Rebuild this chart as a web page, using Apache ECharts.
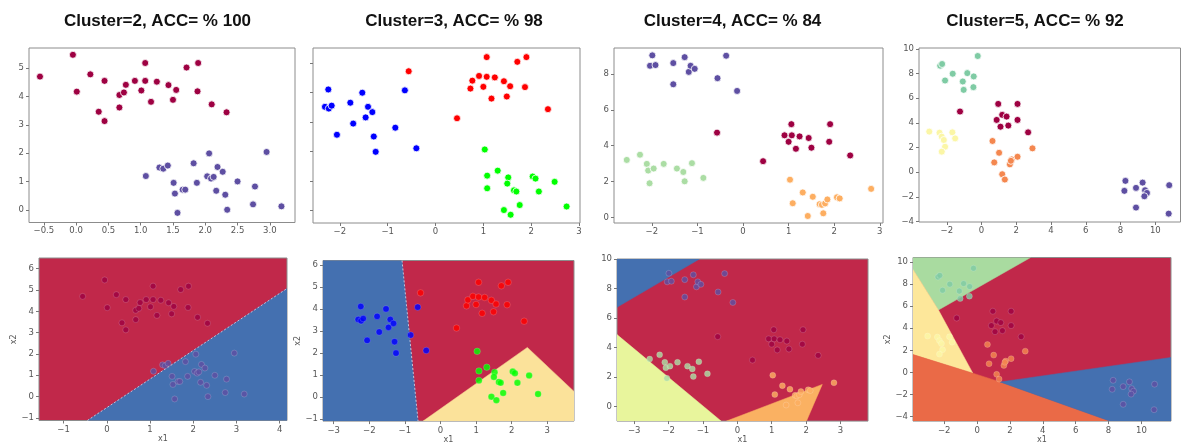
<!DOCTYPE html>
<html>
<head>
<meta charset="utf-8">
<script src="https://cdn.jsdelivr.net/npm/echarts@6/dist/echarts.min.js"></script>
<style>
  html, body { margin: 0; padding: 0; background: #fff; }
  #chart { width: 1181px; height: 445px; }
</style>
</head>
<body>
<div id="chart"></div>
<script>
// ---------- panel titles ----------
const titles = ['Cluster=2, ACC= % 100', 'Cluster=3, ACC= % 98', 'Cluster=4, ACC= % 84', 'Cluster=5, ACC= % 92'];

// ---------- k = 2 ----------
const k2Red = [[-0.56,4.70],[-0.05,5.47],[0.01,4.17],[0.22,4.78],[0.44,4.55],[0.35,3.46],[0.44,3.13],[0.67,3.61],[0.67,4.05],[0.74,4.14],[0.77,4.41],[0.91,4.55],[1.01,4.21],[1.07,5.18],[1.07,4.55],[1.16,3.81],[1.25,4.52],[1.43,4.40],[1.50,3.88],[1.55,4.23],[1.71,5.02],[1.89,5.18],[1.88,4.18],[2.10,3.72],[2.33,3.44]];
const k2Blue = [[1.08,1.19],[1.29,1.49],[1.35,1.45],[1.42,1.56],[1.51,0.95],[1.53,0.57],[1.57,-0.11],[1.65,0.71],[1.69,0.71],[1.82,1.64],[1.87,0.95],[2.06,1.99],[2.03,1.18],[2.09,1.10],[2.13,1.16],[2.17,0.67],[2.19,1.51],[2.27,1.34],[2.31,0.53],[2.34,0.00],[2.50,1.00],[2.77,0.82],[2.74,0.19],[2.95,2.04],[3.18,0.12]];

// ---------- k = 3 ----------
const k3Blue = [[-2.24,4.11],[-2.31,3.52],[-2.23,3.46],[-2.17,3.56],[-2.06,2.57],[-1.78,3.66],[-1.72,2.95],[-1.53,4.00],[-1.41,3.52],[-1.46,3.16],[-1.32,3.34],[-1.29,2.51],[-1.25,1.99],[-0.84,2.81],[-0.64,4.08],[-0.40,2.11]];
const k3Red = [[-0.56,4.73],[0.45,3.13],[0.73,4.14],[0.77,4.41],[0.91,4.57],[1.00,4.20],[1.07,5.21],[1.07,4.54],[1.17,3.80],[1.24,4.52],[1.43,4.39],[1.49,3.87],[1.56,4.22],[1.71,5.05],[1.90,5.21],[1.87,4.19],[2.35,3.44]];
const k3Green = [[1.03,2.07],[1.08,1.18],[1.08,0.75],[1.30,1.35],[1.52,1.12],[1.50,0.91],[1.64,0.68],[1.69,0.64],[1.43,0.01],[1.57,-0.15],[1.76,0.18],[2.03,1.15],[2.09,1.08],[2.16,0.64],[2.49,0.97],[2.74,0.13]];

// ---------- k = 4 ----------
const k4Purple = [[-1.99,9.03],[-2.04,8.45],[-1.92,8.49],[-1.53,8.60],[-1.53,7.42],[-1.28,8.93],[-1.19,8.11],[-1.15,8.45],[-1.06,8.28],[-0.56,7.76],[-0.37,9.01],[-0.13,7.05]];
const k4Red = [[-0.57,4.73],[0.44,3.14],[0.91,4.58],[1.00,4.22],[1.06,5.20],[1.07,4.58],[1.16,3.83],[1.24,4.52],[1.44,4.43],[1.50,3.89],[1.91,5.20],[1.89,4.22],[2.35,3.46]];
const k4LightGreen = [[-2.55,3.21],[-2.26,3.50],[-2.11,2.99],[-2.08,2.62],[-1.96,2.73],[-2.05,1.91],[-1.74,2.99],[-1.45,2.73],[-1.31,2.54],[-1.28,2.02],[-1.12,3.03],[-0.87,2.21]];
const k4Orange = [[1.03,2.11],[1.09,0.80],[1.31,1.40],[1.42,0.09],[1.53,1.16],[1.68,0.75],[1.73,0.71],[1.80,0.79],[1.85,1.01],[1.76,0.24],[2.06,1.13],[2.12,1.07],[2.81,1.60]];

// ---------- k = 5 ----------
const k5Green = [[-2.38,8.64],[-2.27,8.78],[-2.10,7.44],[-1.66,7.99],[-1.08,7.36],[-1.03,6.68],[-0.82,8.04],[-0.45,7.77],[-0.47,6.90],[-0.22,9.43]];
const k5Red = [[-1.24,4.92],[0.96,5.54],[2.07,5.54],[0.87,4.24],[1.19,4.65],[1.44,4.51],[1.09,3.69],[1.54,3.78],[2.07,4.24],[2.68,3.23]];
const k5Yellow = [[-3.01,3.29],[-2.42,3.20],[-2.29,2.88],[-2.17,2.61],[-1.68,3.23],[-1.52,2.74],[-2.10,2.06],[-2.29,1.66]];
const k5Orange = [[0.63,2.53],[1.01,1.57],[0.73,0.79],[1.19,-0.17],[1.34,-0.60],[1.63,0.63],[1.74,1.03],[1.69,0.92],[2.07,1.25],[2.93,1.93]];
const k5Purple = [[8.28,-0.71],[8.22,-1.52],[8.89,-1.28],[9.27,-0.85],[9.41,-1.47],[9.52,-1.69],[9.37,-1.96],[8.89,-2.88],[10.80,-1.06],[10.77,-3.37]];

// ---------- axis ranges and ticks (top row: scatter, bottom row: decision regions) ----------
const topXRange = [[-0.73,3.39],[-2.56,3.02],[-2.83,3.07],[-3.6,11.45]];
const topYRange = [[-0.45,5.71],[-0.43,5.52],[-0.30,9.44],[-4.05,10.08]];
const topXTicks = [[-0.5,0,0.5,1,1.5,2,2.5,3],[-2,-1,0,1,2,3],[-2,-1,0,1,2,3],[-2,0,2,4,6,8,10]];
const topYTicks = [[0,1,2,3,4,5],[0,1,2,3,4,5],[0,2,4,6,8],[-4,-2,0,2,4,6,8,10]];

const botXRange = [[-1.57,4.17],[-3.3,3.75],[-3.5,3.8],[-3.9,11.8]];
const botYRange = [[-1.12,6.5],[-1.1,6.2],[-1.0,10.0],[-4.4,10.4]];
const botXTicks = [[-1,0,1,2,3,4],[-3,-2,-1,0,1,2,3],[-3,-2,-1,0,1,2,3],[-2,0,2,4,6,8,10]];
const botYTicks = [[-1,0,1,2,3,4,5,6],[-1,0,1,2,3,4,5,6],[0,2,4,6,8,10],[-4,-2,0,2,4,6,8,10]];

// ---------- decision region polygons (remaining area is the red class) ----------
const k2RegionBlue = [[-0.45,-1.12],[4.17,5.07],[4.17,-1.12]];
const k3RegionBlue = [[-3.3,6.2],[-1.08,6.2],[-0.63,-1.1],[-3.3,-1.1]];
const k3RegionYellow = [[-0.49,-1.1],[2.44,2.25],[3.75,0.25],[3.75,-1.1]];
const k3Boundary = [[-1.08,6.2],[-0.63,-1.1]];
const k4RegionBlue = [[-3.5,6.72],[-1.1,10.0],[-3.5,10.0]];
const k4RegionLime = [[-3.5,4.87],[-0.47,-1.0],[-3.5,-1.0]];
const k4RegionOrange = [[-0.32,-1.0],[2.47,1.49],[2.01,-1.0]];
const k5RegionGreen = [[-3.9,10.4],[3.26,10.4],[-2.35,5.65],[-3.9,9.32]];
const k5RegionYellow = [[-3.9,9.32],[-2.35,5.65],[-0.26,-0.06],[-3.9,1.62]];
const k5RegionOrange = [[-3.9,1.62],[-0.26,-0.06],[1.40,-0.86],[8.08,-4.4],[-3.9,-4.4]];
const k5RegionBlue = [[1.40,-0.86],[11.8,1.36],[11.8,-4.4],[8.08,-4.4]];

// ---------- styling ----------
const C = {
  maroon: '#9e0142', indigo: '#5e4fa2',
  blue: '#0000ff', red: '#ff0000', lime: '#00ff00',
  mint: '#abdda4', apricot: '#fdae61',
  teal: '#7fcba4', pale: '#fbf6a6', coral: '#f4874f',
  regRed: '#c1284a', regBlue: '#4470b0', regYellow: '#fbe29a',
  regLime: '#e8f59c', regOrange: '#fab162', regGreen: '#a9dba0',
  regYellow5: '#fde79a', regCoral: '#ea6a47'
};

const gridsTop = [
  { left: 29, top: 48, width: 266, height: 174.5 },
  { left: 313, top: 48, width: 267, height: 175 },
  { left: 614, top: 48, width: 269, height: 175 },
  { left: 919, top: 48, width: 261.5, height: 174 }
];
const gridsBot = [
  { left: 39, top: 258, width: 248, height: 162.5 },
  { left: 323, top: 260.5, width: 251, height: 163.5 },
  { left: 617, top: 259, width: 251, height: 163 },
  { left: 913, top: 257.5, width: 258, height: 166.5 }
];
const titleX = [157.5, 454, 732.5, 1035];
const yNameGap = [20, 12, 0, 17];

const fmtMinus = (v, dec) => {
  const s = dec ? v.toFixed(dec) : String(Math.round(v));
  return s.replace('-', '\u2212');
};

const grid = [], xAxis = [], yAxis = [], series = [];
const tickFont = { fontFamily: 'DejaVu Sans', fontSize: 8.5, color: '#555' };

function addAxes(idx, g, xr, yr, xt, yt, opts) {
  grid.push(Object.assign({
    show: true, borderColor: '#8c8c8c', borderWidth: 1,
    backgroundColor: opts.bg || 'transparent', containLabel: false
  }, g));
  xAxis.push({
    type: 'value', gridIndex: idx, min: xr[0], max: xr[1], position: 'bottom',
    splitLine: { show: false }, axisLine: { show: false, onZero: false },
    axisTick: { show: true, inside: false, length: 3, customValues: xt, lineStyle: { color: '#777', width: 1 } },
    axisLabel: Object.assign({ customValues: xt, margin: opts.xMargin, formatter: v => fmtMinus(v, opts.xDec) }, tickFont),
    name: opts.xName || '', nameLocation: 'middle', nameGap: 14,
    nameTextStyle: { fontFamily: 'DejaVu Sans', fontSize: 8, color: '#555' }
  });
  yAxis.push({
    type: 'value', gridIndex: idx, min: yr[0], max: yr[1], position: 'left',
    splitLine: { show: false }, axisLine: { show: false, onZero: false },
    axisTick: { show: true, inside: false, length: 3, customValues: yt, lineStyle: { color: '#777', width: 1 } },
    axisLabel: Object.assign({ show: opts.yLabels !== false, customValues: yt, margin: 5, formatter: v => fmtMinus(v, 0) }, tickFont),
    name: opts.yName || '', nameLocation: 'middle', nameGap: opts.yNameGap || 20,
    nameTextStyle: { fontFamily: 'DejaVu Sans', fontSize: 8, color: '#555' }
  });
}

function scatter(idx, data, color, size, bottom) {
  series.push({
    type: 'scatter', xAxisIndex: idx, yAxisIndex: idx, data: data, symbolSize: size,
    silent: true, z: 5,
    itemStyle: {
      color: color, opacity: bottom ? 0.82 : 1,
      borderColor: bottom ? 'rgba(255,255,255,0.35)' : '#ffffff', borderWidth: bottom ? 0.6 : 0.8
    }
  });
}

function region(idx, pts, color) {
  series.push({
    type: 'custom', xAxisIndex: idx, yAxisIndex: idx, silent: true, z: 1, clip: true,
    data: [pts[0]],
    renderItem: (params, api) => ({
      type: 'polygon',
      shape: { points: pts.map(p => api.coord(p)) },
      style: { fill: color, stroke: color, lineWidth: 0.5 }
    })
  });
}

function boundary(idx, pts) {
  series.push({
    type: 'line', xAxisIndex: idx, yAxisIndex: idx, data: pts, silent: true, z: 2,
    symbol: 'none', lineStyle: { color: 'rgba(235,225,235,0.75)', width: 1, type: [2, 2] }
  });
}

// top row axes
for (let i = 0; i < 4; i++) {
  addAxes(i, gridsTop[i], topXRange[i], topYRange[i], topXTicks[i], topYTicks[i],
    { xDec: i === 0 ? 1 : 0, xMargin: 4, yLabels: i !== 1 });
}
// bottom row axes
for (let i = 0; i < 4; i++) {
  addAxes(4 + i, gridsBot[i], botXRange[i], botYRange[i], botXTicks[i], botYTicks[i],
    { xDec: 0, xMargin: 5, bg: C.regRed, xName: 'x1', yName: i === 2 ? '' : 'x2', yNameGap: yNameGap[i] });
}

// top row scatter
scatter(0, k2Red, C.maroon, 7); scatter(0, k2Blue, C.indigo, 7);
scatter(1, k3Blue, C.blue, 7); scatter(1, k3Red, C.red, 7); scatter(1, k3Green, C.lime, 7);
scatter(2, k4Purple, C.indigo, 7); scatter(2, k4Red, C.maroon, 7); scatter(2, k4LightGreen, C.mint, 7); scatter(2, k4Orange, C.apricot, 7);
scatter(3, k5Green, C.teal, 7); scatter(3, k5Red, C.maroon, 7); scatter(3, k5Yellow, C.pale, 7); scatter(3, k5Orange, C.coral, 7); scatter(3, k5Purple, C.indigo, 7);

// bottom row regions
region(4, k2RegionBlue, C.regBlue);
boundary(4, [k2RegionBlue[0], k2RegionBlue[1]]);
region(5, k3RegionBlue, C.regBlue); region(5, k3RegionYellow, C.regYellow);
boundary(5, k3Boundary);
region(6, k4RegionBlue, C.regBlue); region(6, k4RegionLime, C.regLime); region(6, k4RegionOrange, C.regOrange);
region(7, k5RegionGreen, C.regGreen); region(7, k5RegionYellow, C.regYellow5); region(7, k5RegionOrange, C.regCoral); region(7, k5RegionBlue, C.regBlue);

// bottom row scatter (same samples over the regions)
scatter(4, k2Red, C.maroon, 6, true); scatter(4, k2Blue, C.indigo, 6, true);
scatter(5, k3Blue, C.blue, 6.5, true); scatter(5, k3Red, C.red, 6.5, true); scatter(5, k3Green, C.lime, 6.5, true);
scatter(6, k4Purple, C.indigo, 6, true); scatter(6, k4Red, C.maroon, 6, true); scatter(6, k4LightGreen, C.mint, 6, true); scatter(6, k4Orange, C.apricot, 6, true);
scatter(7, k5Green, C.teal, 6, true); scatter(7, k5Red, C.maroon, 6, true); scatter(7, k5Yellow, C.pale, 6, true); scatter(7, k5Orange, C.coral, 6, true); scatter(7, k5Purple, C.indigo, 6, true);

const chart = echarts.init(document.getElementById('chart'));
chart.setOption({
  animation: false,
  backgroundColor: '#ffffff',
  grid: grid, xAxis: xAxis, yAxis: yAxis, series: series,
  graphic: titles.map((t, i) => ({
    type: 'text', x: titleX[i], y: 21, silent: true,
    style: { text: t, fontFamily: 'Liberation Sans', fontWeight: 'bold', fontSize: 17, fill: '#111', align: 'center', verticalAlign: 'middle' }
  }))
});
</script>
</body>
</html>
